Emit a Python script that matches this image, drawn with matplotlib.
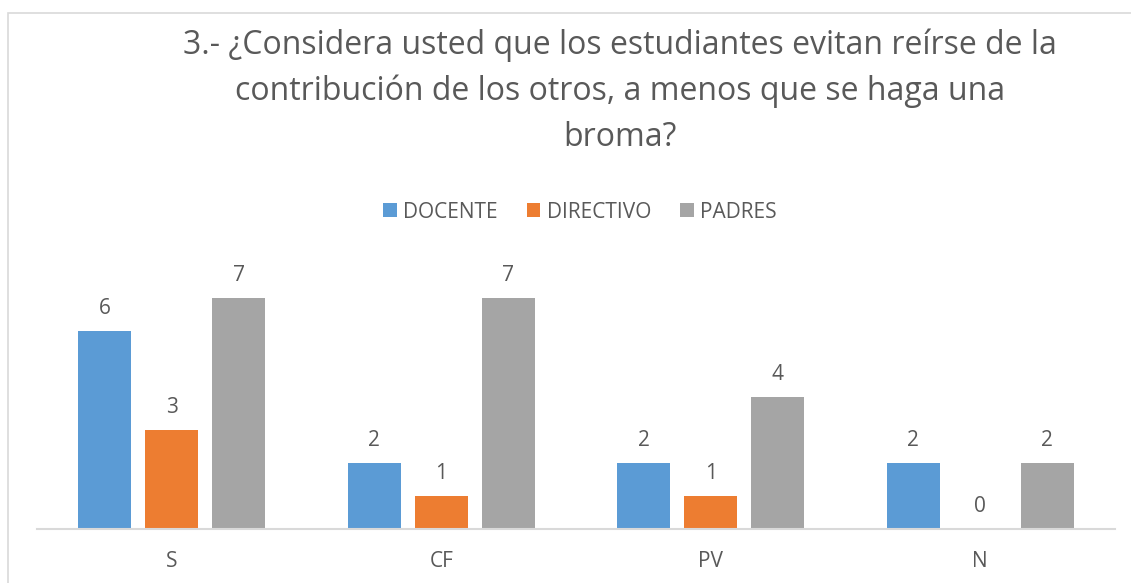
import matplotlib.pyplot as plt
import numpy as np
from matplotlib.patches import Rectangle, Patch

plt.rcParams['font.family'] = ['Open Sans', 'DejaVu Sans']

categories = ['S', 'CF', 'PV', 'N']
series_names = ['DOCENTE', 'DIRECTIVO', 'PADRES']
docente = [6, 2, 2, 2]
directivo = [3, 1, 1, 0]
padres = [7, 7, 4, 2]
colors = ['#5B9BD5', '#ED7D31', '#A5A5A5']
title = ('3.- ¿Considera usted que los estudiantes evitan reírse de la\n'
         'contribución de los otros, a menos que se haga una\n'
         'broma?')

W, H = 1131, 583
fig = plt.figure(figsize=(W / 100, H / 100), dpi=100)
text_color = '#595959'

# chart frame (only left/top visible in crop)
fig.patches.append(Rectangle((8 / W, -0.1), 1.2, 1 - 13 / H + 0.1,
                             transform=fig.transFigure, fill=False,
                             edgecolor='#D9D9D9', linewidth=1.2))

ax = fig.add_axes([37 / W, 1 - 529 / H, (1115 - 37) / W, (529 - 265) / H])
x = np.arange(len(categories))
width = 0.197
step = 0.249
for i, (vals, name, c) in enumerate(zip([docente, directivo, padres], series_names, colors)):
    bars = ax.bar(x + (i - 1) * step, vals, width, color=c, label=name)
    for b, v in zip(bars, vals):
        ax.annotate(str(v), (b.get_x() + b.get_width() / 2, v), xytext=(0, 8.5),
                    textcoords='offset points', ha='center', va='bottom',
                    fontsize=15, color=text_color)

ax.set_xlim(-0.5, len(categories) - 0.5)
ax.set_ylim(0, 8)
ax.set_xticks(x)
ax.set_xticklabels(categories, fontsize=15, color=text_color)
ax.tick_params(axis='x', length=0, pad=16)
ax.set_yticks([])
for s in ['left', 'right', 'top']:
    ax.spines[s].set_visible(False)
ax.spines['bottom'].set_color('#D9D9D9')
ax.spines['bottom'].set_linewidth(1.5)

fig.text(620 / W, 1 - 91 / H, title, ha='center', va='center',
         multialignment='center', fontsize=23, color=text_color, linespacing=1.5)

handles = [Patch(facecolor=c, edgecolor='none') for c in colors]
leg = fig.legend(handles, series_names, loc='center', bbox_to_anchor=(580 / W, 1 - 212 / H),
                 ncol=3, frameon=False, fontsize=15, handlelength=0.65, handleheight=0.65,
                 handletextpad=0.3, columnspacing=1.4, labelcolor=text_color)

fig.savefig('out.png', dpi=100)
